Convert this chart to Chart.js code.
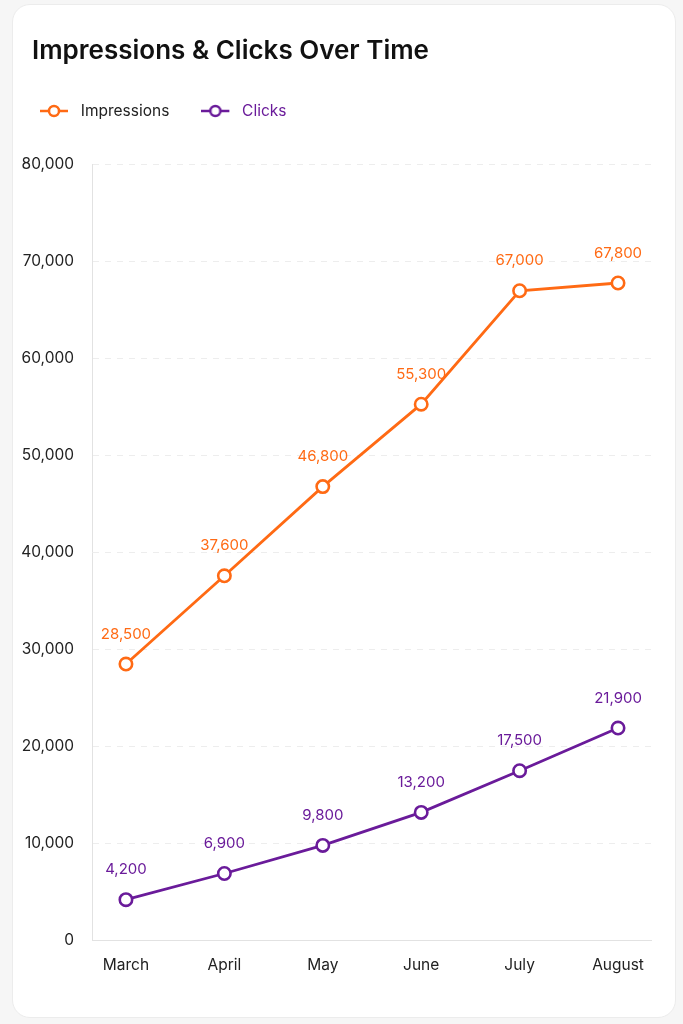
<!DOCTYPE html>
<html>
<head>
<meta charset="utf-8">
<script src="https://cdn.jsdelivr.net/npm/chart.js@4.4.1/dist/chart.umd.min.js"></script>
<style>
  html, body { margin: 0; padding: 0; background: #f6f6f6; }
  .card {
    position: absolute; left: 12px; top: 4px; width: 662px; height: 1012px;
    background: #fff; border: 1px solid #ececec; border-radius: 18px;
  }
  .card canvas { display: block; }
</style>
</head>
<body>
<div class="card"><canvas id="myChart"></canvas></div>
<script>
const months = ['March', 'April', 'May', 'June', 'July', 'August'];
const impressions = [28500, 37600, 46800, 55300, 67000, 67800];
const clicks = [4200, 6900, 9800, 13200, 17500, 21900];
const yTicks = [0, 10000, 20000, 30000, 40000, 50000, 60000, 70000, 80000];

const orange = '#ff6a14';
const purple = '#6a1b9a';
const FONT = 'Inter, "Noto Sans", sans-serif';

// legend marker: short line with an open circle, blank space on the right
function marker(color) {
  const c = document.createElement('canvas');
  c.width = 33; c.height = 14;
  const g = c.getContext('2d');
  g.strokeStyle = color;
  g.lineWidth = 2.5;
  g.beginPath(); g.moveTo(0, 7); g.lineTo(28, 7); g.stroke();
  g.fillStyle = '#fff';
  g.beginPath(); g.arc(14, 7, 5, 0, Math.PI * 2); g.fill(); g.stroke();
  return c;
}

const valueLabels = {
  id: 'valueLabels',
  afterDatasetsDraw(chart) {
    const ctx = chart.ctx;
    ctx.save();
    ctx.font = '15px ' + FONT;
    ctx.textAlign = 'center';
    ctx.textBaseline = 'middle';
    chart.data.datasets.forEach((ds, i) => {
      const meta = chart.getDatasetMeta(i);
      ctx.fillStyle = ds.borderColor;
      meta.data.forEach((pt, j) => {
        ctx.fillText(ds.data[j].y.toLocaleString('en-US'), pt.x, pt.y - 30);
      });
    });
    ctx.restore();
  }
};

const spacing = {
  id: 'spacing',
  beforeInit(chart) {
    const fit = chart.legend.fit;
    chart.legend.fit = function() {
      fit.bind(chart.legend)();
      this.height += 36;
    };
  },
  afterLayout(chart) {
    chart.legend.left -= 10;
    chart.titleBlock.left += 14;
  }
};

const ctx = document.getElementById('myChart').getContext('2d');
const myChart = new Chart(ctx, {
  type: 'line',
  data: {
    datasets: [{
      label: 'Impressions',
      data: impressions.map((v, i) => ({x: i, y: v})),
      borderColor: orange,
      backgroundColor: '#fff',
      borderWidth: 2.8,
      pointRadius: 6.2,
      pointBorderWidth: 2.6,
      pointBackgroundColor: '#fff',
      tension: 0
    }, {
      label: 'Clicks',
      data: clicks.map((v, i) => ({x: i, y: v})),
      borderColor: purple,
      backgroundColor: '#fff',
      borderWidth: 2.8,
      pointRadius: 6.2,
      pointBorderWidth: 2.6,
      pointBackgroundColor: '#fff',
      tension: 0
    }]
  },
  options: {
    responsive: true,
    maintainAspectRatio: false,
    animation: false,
    layout: { padding: { top: 16, left: 5, right: 24, bottom: 26 } },
    plugins: {
      title: {
        display: true,
        text: 'Impressions & Clicks Over Time',
        align: 'start',
        color: '#111',
        font: { family: FONT, size: 26, weight: '600' },
        padding: { top: 15, bottom: 4 }
      },
      legend: {
        align: 'start',
        labels: {
          usePointStyle: true,
          pointStyleWidth: 33,
          boxHeight: 14,
          padding: 32,
          font: { family: FONT, size: 15.5 },
          generateLabels(chart) {
            return chart.data.datasets.map((ds, i) => ({
              text: ds.label,
              datasetIndex: i,
              pointStyle: marker(ds.borderColor),
              fontColor: i === 0 ? '#222' : purple,
              strokeStyle: ds.borderColor,
              fillStyle: '#fff',
              lineWidth: 0
            }));
          }
        }
      },
      tooltip: { enabled: false }
    },
    scales: {
      x: {
        type: 'linear',
        min: -0.345,
        max: 5.335,
        afterBuildTicks(scale) {
          scale.ticks = months.map((m, i) => ({value: i}));
        },
        ticks: {
          color: '#222',
          padding: 16,
          font: { family: FONT, size: 15.5 },
          callback: (v) => months[v]
        },
        grid: { display: false, drawTicks: false },
        border: { display: true, color: '#e2e2e2', width: 1 }
      },
      y: {
        min: 0,
        max: 80000,
        afterBuildTicks(scale) {
          scale.ticks = yTicks.map(v => ({value: v}));
        },
        afterFit(scale) { scale.width = 74; },
        ticks: {
          color: '#222',
          padding: 18,
          font: { family: FONT, size: 15.5 },
          callback: (v) => v.toLocaleString('en-US')
        },
        grid: { color: '#ededed', drawTicks: false },
        border: { display: true, color: '#e2e2e2', dash: [6, 6] }
      }
    }
  },
  plugins: [valueLabels, spacing]
});
</script>
</body>
</html>
